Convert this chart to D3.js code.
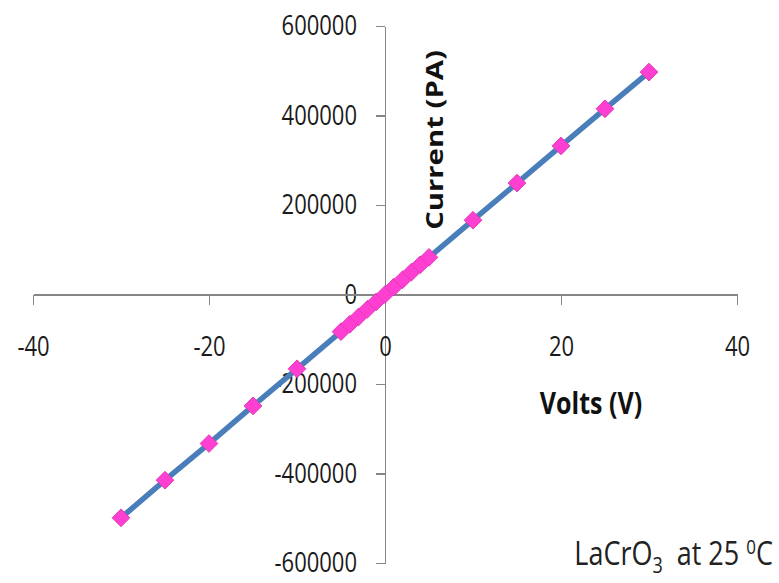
<!DOCTYPE html>
<html>
<head>
<meta charset="utf-8">
<script src="https://cdn.jsdelivr.net/npm/d3@7"></script>
<style>
	body{margin:0;background:#fff;}
	svg{display:block;}
	.axis path,.axis line{stroke:#868686;stroke-width:1.2;shape-rendering:crispEdges;}
	.axis text{font-family:"Open Sans",sans-serif;font-size:22px;fill:#1a1a1a;}
	.lbl{font-family:"Open Sans",sans-serif;fill:#111;}
	/* the original's lettering is a bit taller than wide */
	.tall{transform-box:fill-box;transform-origin:center;transform:scaleY(1.22);}
</style>
</head>
<body>
<div id="plot"></div>
<script>
//chart data
var volts = [-30,-25,-20,-15,-10,-5,-4,-3,-2,-1,0,1,2,3,4,5,10,15,20,25,30];
var current = [-499000,-415000,-333000,-249000,-166000,-83000,-66500,-50000,-33000,-16500,0,16500,33000,50000,66500,83000,166000,249000,332000,415000,497000];
var xTicks = [-40,-20,0,20,40];
var yTicks = [-600000,-400000,-200000,0,200000,400000,600000];

var W = 779, H = 583;
var svg = d3.select('#plot').append('svg')
	.attr('width',W)
	.attr('height',H);

var scaleX = d3.scaleLinear().domain([-40,40]).range([33,737]),
	scaleY = d3.scaleLinear().domain([-600000,600000]).range([563,26]);

//plain hyphen for negatives, like the original
var fmt = function(d){return String(d)};

//y axis sits on x=0
var yAxis = d3.axisLeft(scaleY)
	.tickValues(yTicks)
	.tickSize(9)
	.tickSizeOuter(0)
	.tickPadding(19)
	.tickFormat(fmt);
svg.append('g').attr('class','axis axis-y')
	.attr('transform','translate('+scaleX(0)+',0)')
	.call(yAxis);

//x axis sits on y=0
var xAxis = d3.axisBottom(scaleX)
	.tickValues(xTicks)
	.tickSize(10)
	.tickSizeOuter(0)
	.tickPadding(34)
	.tickFormat(fmt);
svg.append('g').attr('class','axis axis-x')
	.attr('transform','translate(0,'+scaleY(0)+')')
	.call(xAxis);
svg.select('.axis-x').selectAll('.tick').filter(function(d){return d===0}).select('line').remove();
svg.selectAll('.axis text').classed('tall',true);

var pts = volts.map(function(v,i){return {x:v,y:current[i]}});

var line = d3.line()
	.x(function(d){return scaleX(d.x)})
	.y(function(d){return scaleY(d.y)});

svg.append('path')
	.datum(pts)
	.attr('d',line)
	.attr('fill','none')
	.attr('stroke','#4a7ebb')
	.attr('stroke-width',5.5);

var diamond = d3.symbol().type(d3.symbolDiamond2).size(200);
svg.selectAll('.pt')
	.data(pts)
	.enter()
	.append('path').attr('class','pt')
	.attr('transform',function(d){return 'translate('+scaleX(d.x)+','+scaleY(d.y)+')'})
	.attr('d',diamond)
	.attr('fill','#ff3fd2')
	.attr('stroke','#e03ab8')
	.attr('stroke-width',1);

//axis titles
svg.append('text').attr('class','lbl')
	.attr('transform','translate(443,140) rotate(-90) scale(1.22,1)')
	.attr('text-anchor','middle')
	.style('font-size','24px')
	.style('font-weight','bold')
	.text('Current (PA)');

svg.append('text').attr('class','lbl tall')
	.attr('x',591).attr('y',412)
	.attr('text-anchor','middle')
	.style('font-size','25px')
	.style('font-weight','bold')
	.text('Volts (V)');

var note = svg.append('text').attr('class','lbl tall')
	.attr('x',773).attr('y',563)
	.attr('text-anchor','end')
	.style('font-size','27px')
	.style('fill','#222');
note.append('tspan').text('LaCrO');
note.append('tspan').attr('dy',7).style('font-size','18px').text('3');
note.append('tspan').attr('dy',-7).text('\u00a0 at 25 ');
note.append('tspan').attr('dy',-9).style('font-size','17px').text('0');
note.append('tspan').attr('dy',9).text('C');
</script>
</body>
</html>
